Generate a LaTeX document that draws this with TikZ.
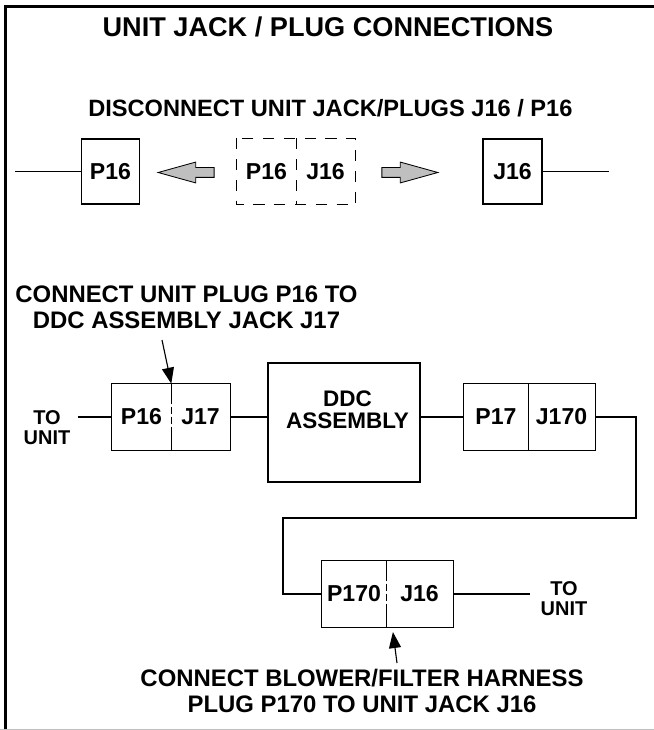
\documentclass[tikz,border=0pt]{standalone}
\usepackage{fontspec}
\setmainfont{Liberation Sans}
\usetikzlibrary{arrows.meta,positioning,shapes.arrows}

\begin{document}
\begin{tikzpicture}[
    wire/.style={line width=0.9pt},
    plugbox/.style={draw, line width=0.9pt, minimum width=1.45cm, minimum height=1.625cm, inner sep=0pt, font=\fontsize{16.4}{17}\selectfont\bfseries},
    plugtext/.style={minimum height=1.65cm, inner sep=0pt, font=\fontsize{16.4}{17}\selectfont\bfseries},
    dashbox/.style={line width=0.9pt, dash pattern=on 0.28cm off 0.24cm},
    splitline/.style={line width=0.9pt, dash pattern=on 0.5cm off 0.07cm on 0.18cm off 0.07cm on 0.18cm off 0.07cm on 0.6cm},
    grayarrow/.style={single arrow, draw, line width=0.6pt, fill=black!25, minimum height=1.4cm, inner xsep=0pt, inner ysep=0.1125cm, single arrow head extend=0.1375cm, single arrow tip angle=31},
    notetext/.style={align=center, font=\fontsize{17}{18.8}\selectfont\bfseries},
    tounit/.style={align=center, font=\fontsize{14.2}{14.6}\selectfont\bfseries},
    pointer/.style={line width=0.8pt, -{Triangle[length=0.4cm, width=0.3cm]}}
  ]
  \useasboundingbox (0,0) rectangle (16.35,-18.25);

  % Frame
  \draw[line width=2.5pt] (16.35,-0.1625) -- (0.1375,-0.1625) -- (0.1375,-18.25);
  \draw[gray!50, line width=0.5pt] (0,-18.225) -- (16.35,-18.225);

  % Headings
  \node[font=\fontsize{19.3}{21}\selectfont\bfseries] (title) at (8.2,-0.6625) {UNIT JACK / PLUG CONNECTIONS};
  \node[notetext, font=\fontsize{16.8}{18.8}\selectfont\bfseries] (disconnect) at (8.26,-2.7125) {DISCONNECT UNIT JACK/PLUGS J16 / P16};

  % Disconnected pair
  \coordinate (wTL) at (0.375,-4.2875);
  \coordinate (wTR) at (15.225,-4.2875);
  \node[plugbox] (p16a) at (2.7625,-4.2875) {P16};
  \node[grayarrow, shape border rotate=180] (arrL) at (4.875,-4.3125) {};
  \node[plugtext, minimum width=1.475cm] (dp16) at (6.6625,-4.2875) {P16};
  \node[plugtext, minimum width=1.475cm] (dj16) at (8.1375,-4.2875) {J16};
  \draw[dashbox] (dp16.north west) rectangle (dj16.south east);
  \draw[dashbox] (dp16.north east) -- (dp16.south east);
  \node[grayarrow] (arrR) at (10.025,-4.3125) {};
  \node[plugbox, minimum width=1.475cm] (j16a) at (12.8125,-4.2875) {J16};
  \draw[wire] (wTL) -- (p16a.west);
  \draw[wire] (j16a.east) -- (wTR);

  % DDC assembly row
  \node[notetext] (note1) at (4.6625,-7.675) {CONNECT UNIT PLUG P16 TO\\DDC ASSEMBLY JACK J17};
  \coordinate (a1tail) at (4.05,-8.5);
  \node[tounit] (tounitL) at (1.175,-10.69) {TO\\UNIT};
  \coordinate (wML) at (1.95,-10.425);
  \node[plugtext, minimum width=1.475cm] (p16b) at (3.5375,-10.425) {P16};
  \node[plugtext, minimum width=1.475cm] (j17) at (5.0125,-10.425) {J17};
  \draw[wire] (p16b.north west) rectangle (j17.south east);
  \draw[splitline] (p16b.north east) -- (p16b.south east);
  \node[draw, line width=0.9pt, minimum width=3.8cm, minimum height=2.975cm] (ddc) at (8.6,-10.5625) {};
  \node[align=center, font=\fontsize{16}{15.8}\selectfont\bfseries] (ddctext) at (8.6875,-10.25) {DDC\\ASSEMBLY};
  \node[plugtext, minimum width=1.6cm] (p17) at (12.4,-10.425) {P17};
  \node[plugtext, minimum width=1.675cm] (j170) at (14.0375,-10.425) {J170};
  \draw[wire] (p17.north west) rectangle (j170.south east);
  \draw[wire] (p17.north east) -- (p17.south east);
  \draw[wire] (wML) -- (p16b.west);
  \draw[wire] (j17.east) -- (j17.east -| ddc.west);
  \draw[wire] (ddc.east |- p17.west) -- (p17.west);
  \draw[pointer] (a1tail) -- (p16b.north east);

  % Harness run down to P170
  \coordinate (bendR) at (15.9,-12.95);
  \coordinate (bendL) at (7.075,-12.95);
  \node[plugtext, minimum width=1.6cm] (p170) at (8.85,-14.85) {P170};
  \node[plugtext, minimum width=1.675cm] (j16b) at (10.4875,-14.85) {J16};
  \draw[wire] (p170.north west) rectangle (j16b.south east);
  \draw[splitline] (p170.north east) -- (p170.south east);
  \draw[wire] (j170.east) -| (bendR) -- (bendL) |- (p170.west);
  \coordinate (wBR) at (13.25,-14.85);
  \draw[wire] (j16b.east) -- (wBR);
  \node[tounit] (tounitR) at (14.1,-14.9625) {TO\\UNIT};

  % Bottom note
  \coordinate (a2tail) at (9.925,-16.575);
  \draw[pointer, shorten >=0.12cm] (a2tail) -- ([xshift=0.15cm]p170.south east);
  \node[notetext] (note2) at (9.05,-17.275) {CONNECT BLOWER/FILTER HARNESS\\PLUG P170 TO UNIT JACK J16};
\end{tikzpicture}
\end{document}
